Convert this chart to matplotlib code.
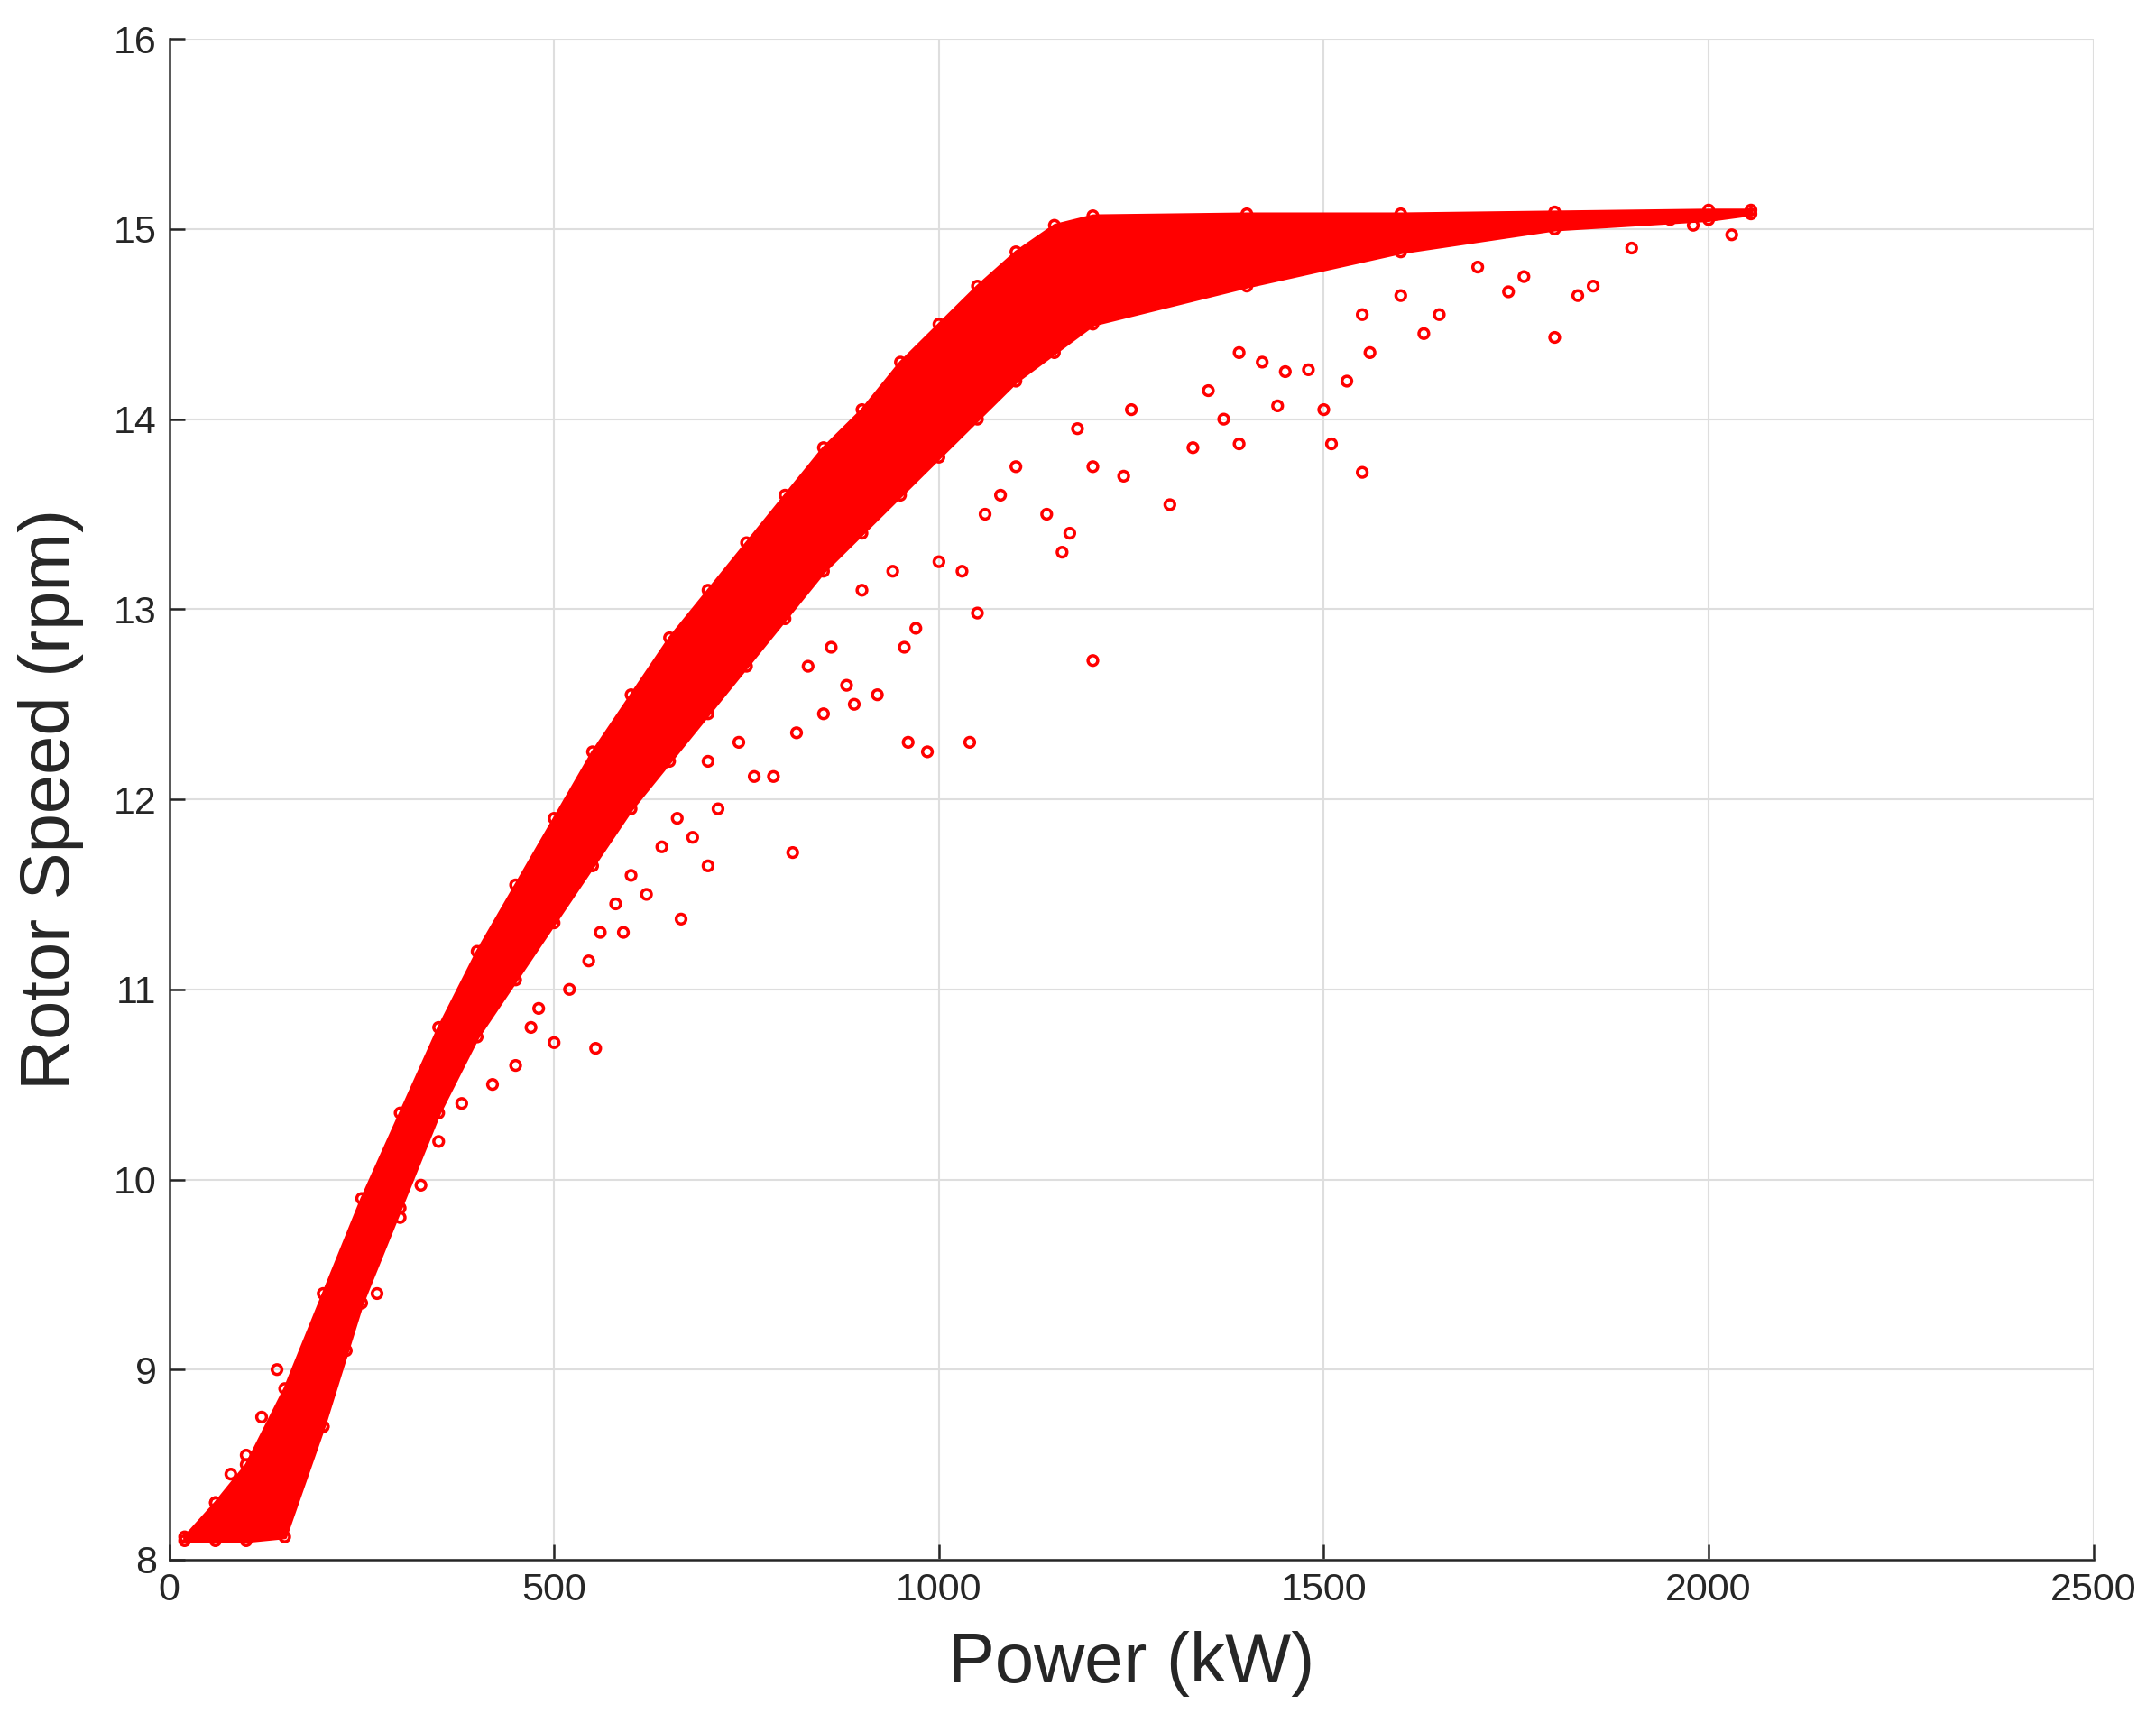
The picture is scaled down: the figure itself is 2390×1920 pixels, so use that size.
import matplotlib
matplotlib.use("Agg")
import matplotlib.pyplot as plt
import numpy as np

plt.rcParams['font.family'] = ['Liberation Sans', 'DejaVu Sans']

# Upper envelope of the dense band (power kW, rotor rpm)
up_x = [20, 60, 100, 150, 200, 250, 300, 350, 400, 450, 500, 550, 600, 650, 700, 750, 800,
        850, 900, 950, 1000, 1050, 1100, 1150, 1200, 1400, 1600, 1800, 2000, 2055]
up_y = [8.12, 8.3, 8.5, 8.9, 9.4, 9.9, 10.35, 10.8, 11.2, 11.55, 11.9, 12.25, 12.55, 12.85, 13.1,
        13.35, 13.6, 13.85, 14.05, 14.3, 14.5, 14.7, 14.88, 15.02, 15.07, 15.08, 15.08, 15.09, 15.1, 15.1]
# Lower edge of the dense band
lo_y = [8.1, 8.1, 8.1, 8.12, 8.7, 9.35, 9.85, 10.35, 10.75, 11.05, 11.35, 11.65, 11.95, 12.2, 12.45,
        12.7, 12.95, 13.2, 13.4, 13.6, 13.8, 14.0, 14.2, 14.35, 14.5, 14.7, 14.88, 15.0, 15.05, 15.08]

# Scattered outlier readings
out_x = [327, 450, 480, 500, 554, 545, 590, 620, 665, 700, 680, 713, 810, 760, 785, 960, 985, 1040,
         815, 890, 920, 880, 850, 970, 1050, 955, 1200, 1000, 1030, 1160, 1170, 1140, 1300, 1240, 1200,
         1330, 1390, 1510, 1550, 1370, 1500, 1440, 1560, 1530, 1480, 1450, 1420, 1390, 1630, 1650, 1800,
         1830, 1850, 1740, 1760, 1900, 1700, 1600, 1550, 1350, 1250, 1180, 1100, 1080, 1060, 940, 900,
         860, 830, 740, 700, 660, 640, 600, 580, 560, 520, 470, 420, 380, 350, 300, 270, 230, 200, 140,
         60, 80, 100, 120, 2030, 1980, 1950]
out_y = [9.97, 10.6, 10.9, 10.72, 10.69, 11.15, 11.3, 11.5, 11.37, 11.65, 11.8, 11.95, 11.72, 12.12,
         12.12, 12.3, 12.25, 12.3, 12.35, 12.5, 12.55, 12.6, 12.45, 12.9, 12.98, 12.8, 12.73, 13.25, 13.2,
         13.3, 13.4, 13.5, 13.55, 13.7, 13.75, 13.85, 13.87, 13.87, 13.72, 14.0, 14.05, 14.07, 14.35, 14.2,
         14.26, 14.25, 14.3, 14.35, 14.45, 14.55, 14.43, 14.65, 14.7, 14.67, 14.75, 14.9, 14.8, 14.65,
         14.55, 14.15, 14.05, 13.95, 13.75, 13.6, 13.5, 13.2, 13.1, 12.8, 12.7, 12.3, 12.2, 11.9, 11.75,
         11.6, 11.45, 11.3, 11.0, 10.8, 10.5, 10.4, 10.2, 9.8, 9.4, 9.1, 8.7, 9.0, 8.3, 8.45, 8.55, 8.75,
         14.97, 15.02, 15.05]

x_ticks = [0, 500, 1000, 1500, 2000, 2500]
y_ticks = [8, 9, 10, 11, 12, 13, 14, 15, 16]

fig = plt.figure(figsize=(23.9, 19.2), dpi=100)
ax = fig.add_axes([0.0785, 0.0995, 0.8925, 0.878])
red = '#ff0000'
ax.fill_between(up_x, lo_y, up_y, color=red, lw=3, edgecolor=red, zorder=2)
mk = dict(s=60, facecolors='none', edgecolors=red, linewidths=2.5, zorder=3)
ax.scatter(up_x, up_y, **mk)
ax.scatter(up_x, lo_y, **mk)
ax.scatter(out_x, out_y, **mk)

ax.set_xlim(0, 2500)
ax.set_ylim(8, 16)
ax.set_xticks(x_ticks)
ax.set_yticks(y_ticks)
ax.grid(True, color='#dedede', lw=1.5, zorder=0)
ax.set_axisbelow(True)
for s in ['top', 'right']:
    ax.spines[s].set_visible(False)
for s in ['left', 'bottom']:
    ax.spines[s].set_linewidth(1.8)
    ax.spines[s].set_color('#262626')
ax.tick_params(direction='in', length=12, width=1.8, labelsize=31, colors='#262626', pad=10)
ax.set_xlabel('Power (kW)', fontsize=56, color='#262626', labelpad=18)
ax.set_ylabel('Rotor Speed (rpm)', fontsize=56, color='#262626', labelpad=24)
fig.savefig('out.png', dpi=100)
